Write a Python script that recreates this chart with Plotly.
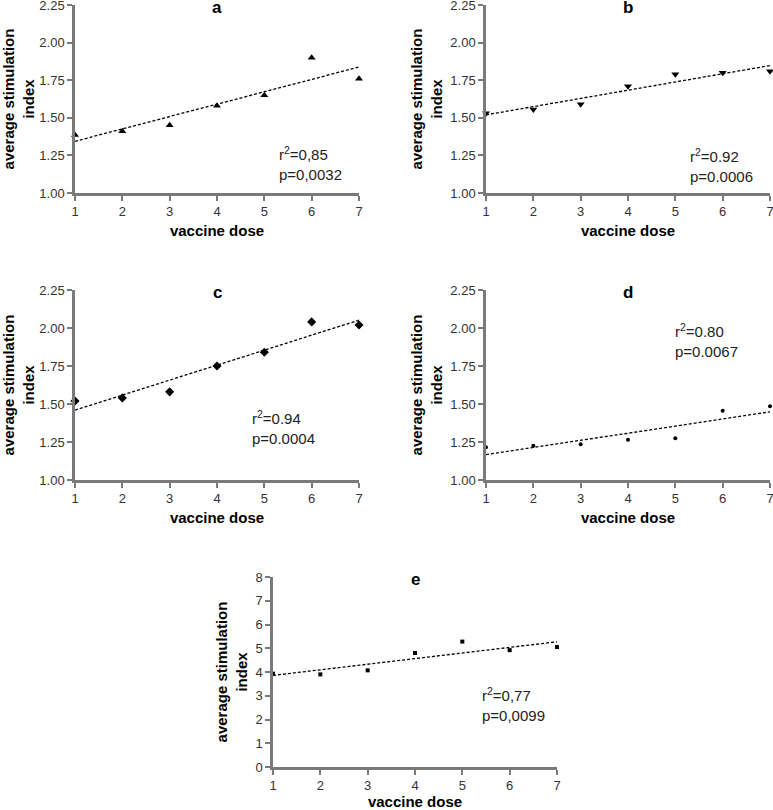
import plotly.graph_objects as go
import numpy as np

doses = [1, 2, 3, 4, 5, 6, 7]
si_a = [1.385, 1.41, 1.45, 1.58, 1.65, 1.90, 1.76]
si_b = [1.53, 1.555, 1.59, 1.71, 1.79, 1.80, 1.81]
si_c = [1.52, 1.54, 1.58, 1.75, 1.84, 2.04, 2.02]
si_d = [1.215, 1.225, 1.235, 1.265, 1.275, 1.455, 1.485]
si_e = [3.93, 3.90, 4.07, 4.80, 5.28, 4.92, 5.05]

panel_labels = ["a", "b", "c", "d", "e"]
stats_text = ["r<sup>2</sup>=0,85<br>p=0,0032",
              "r<sup>2</sup>=0.92<br>p=0.0006",
              "r<sup>2</sup>=0.94<br>p=0.0004",
              "r<sup>2</sup>=0.80<br>p=0.0067",
              "r<sup>2</sup>=0,77<br>p=0,0099"]
yticks_small = [1.00, 1.25, 1.50, 1.75, 2.00, 2.25]
yticks_e = [0, 1, 2, 3, 4, 5, 6, 7, 8]

series = [si_a, si_b, si_c, si_d, si_e]
symbols = ["triangle-up", "triangle-down", "diamond", "circle", "square"]
msizes = [7, 7, 7, 4, 4]

W, H = 773, 810
# pixel boxes: (left, right, top, bottom)
boxes = [(75, 359, 5, 193), (486, 770, 5, 193),
         (75, 359, 290, 480), (486, 770, 290, 480),
         (273, 557, 577, 767)]
stat_pos = [(5.27, 1.31), (5.27, 1.30), (4.70, 1.46), (4.95, 2.03), (5.37, 3.37)]
xtitle_standoff = [8, 8, 8, 8, 10]

FONT = "Arial, Liberation Sans, sans-serif"
fig = go.Figure()
layout = {}
annotations = []
for i, (ys, sym, ms, box) in enumerate(zip(series, symbols, msizes, boxes)):
    n = "" if i == 0 else str(i + 1)
    xa, ya = "x" + n, "y" + n
    l, r, t, b = box
    xdom = [l / W, r / W]
    ydom = [1 - b / H, 1 - t / H]
    fig.add_trace(go.Scatter(x=doses, y=ys, mode="markers", xaxis=xa, yaxis=ya,
                             marker=dict(symbol=sym, size=ms, color="black"),
                             cliponaxis=False, showlegend=False))
    coef = np.polyfit(doses, ys, 1)
    fit_x = [doses[0], doses[-1]]
    fig.add_trace(go.Scatter(x=fit_x, y=[coef[0] * v + coef[1] for v in fit_x],
                             mode="lines", xaxis=xa, yaxis=ya,
                             line=dict(color="black", width=1.3, dash="3px,2px"),
                             cliponaxis=False, showlegend=False))
    if i < 4:
        yrange, ytv, ytt = [1, 2.25], yticks_small, [f"{v:.2f}" for v in yticks_small]
    else:
        yrange, ytv, ytt = [0, 8], yticks_e, [str(v) for v in yticks_e]
    layout["xaxis" + n] = dict(domain=xdom, anchor=ya, range=[1, 7], automargin=False,
                               tickvals=doses, ticktext=[str(d) for d in doses],
                               ticklabeloverflow="allow",
                               showline=True, linecolor="#7a7a7a", linewidth=2.5,
                               ticks="outside", ticklen=5, tickcolor="#7a7a7a", tickwidth=1.5,
                               showgrid=False, zeroline=False,
                               tickfont=dict(family=FONT, size=13, color="#333333"),
                               title=dict(text="<b>vaccine dose</b>", standoff=xtitle_standoff[i],
                                          font=dict(family=FONT, size=15, color="black")))
    layout["yaxis" + n] = dict(domain=ydom, anchor=xa, range=yrange, automargin=False,
                               tickvals=ytv, ticktext=ytt,
                               ticklabeloverflow="allow",
                               showline=True, linecolor="#7a7a7a", linewidth=2.5,
                               ticks="outside", ticklen=5, tickcolor="#7a7a7a", tickwidth=1.5,
                               showgrid=False, zeroline=False,
                               tickfont=dict(family=FONT, size=13, color="#333333"),
                               title=dict(text="<b>average stimulation<br>index</b>", standoff=5,
                                          font=dict(family=FONT, size=15, color="black")))
    annotations.append(dict(x=(xdom[0] + xdom[1]) / 2, y=ydom[1], xref="paper", yref="paper",
                            text="<b>" + panel_labels[i] + "</b>", showarrow=False,
                            xanchor="center", yanchor="middle", yshift=-2,
                            font=dict(family=FONT, size=17, color="black")))
    sx, sy = stat_pos[i]
    annotations.append(dict(x=sx, y=sy, xref=xa, yref=ya, text=stats_text[i], showarrow=False,
                            xanchor="left", yanchor="top", align="left", yshift=4,
                            font=dict(family=FONT, size=15, color="#222222")))

fig.update_layout(width=W, height=H, margin=dict(l=0, r=0, t=0, b=0),
                  plot_bgcolor="white", paper_bgcolor="white",
                  annotations=annotations, **layout)
fig.write_html("out.html", config={"displayModeBar": False},
               post_script="document.body.style.margin='0px';document.body.style.overflow='hidden';")
